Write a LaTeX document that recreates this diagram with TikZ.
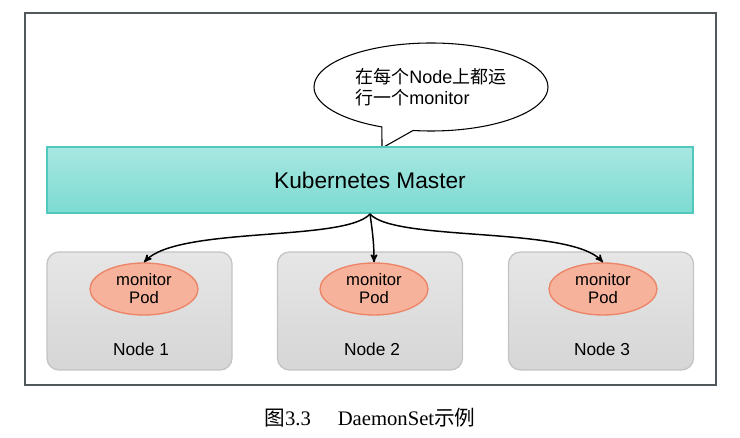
\documentclass[tikz,border=0pt]{standalone}
\usepackage{fontspec}
\setmainfont{Liberation Sans}
\newfontfamily\cjk{Noto Sans CJK SC}
\newfontfamily\capfont{Liberation Serif}
\usetikzlibrary{shapes}
\usetikzlibrary{shapes.callouts}
\usetikzlibrary{arrows}
\definecolor{masterTop}{RGB}{168,231,225}
\definecolor{masterBot}{RGB}{124,219,210}
\definecolor{masterLine}{RGB}{82,200,188}
\definecolor{boxTop}{RGB}{230,230,230}
\definecolor{boxBot}{RGB}{214,214,214}
\definecolor{boxLine}{RGB}{196,196,196}
\definecolor{podFill}{RGB}{247,178,155}
\definecolor{podLine}{RGB}{236,132,104}
\definecolor{frameLine}{RGB}{80,88,92}
\tikzset{
	master/.style = {rectangle, top color=masterTop, bottom color=masterBot,
		draw=masterLine, line width=1.5pt, minimum width=484.5pt,
		minimum height=49.5pt, font=\fontsize{17}{20}\selectfont},% le maitre
	hostbox/.style = {rectangle, rounded corners=9pt, top color=boxTop,
		bottom color=boxBot, draw=boxLine, line width=1pt,
		minimum width=138.75pt, minimum height=88.5pt},% un noeud du cluster
	pod/.style = {ellipse, fill=podFill, draw=podLine, line width=1pt,
		minimum width=81pt, minimum height=39pt, inner sep=0pt, align=center,
		font=\fontsize{12.5}{13.5}\selectfont},% le pod monitor
	hostlabel/.style = {font=\fontsize{13}{15}\selectfont},
	bubble/.style = {ellipse callout, draw=black, fill=white, line width=0.8pt,
		minimum width=175.5pt, minimum height=66pt, align=left,
		callout pointer arc=16, font=\fontsize{13.5}{15.5}\selectfont}% la bulle
}

\begin{document}
\begin{tikzpicture}[x=0.75pt, y=-0.75pt, ->, >=stealth', line width=1.1pt]
	\useasboundingbox (0,0) rectangle (740,438);
	% cadre
	\draw[-, draw=frameLine, line width=1.2pt] (25,13) rectangle (716,385);

	\node[bubble, callout absolute pointer={(382,148)}] (note) at (431,87)
		{{\cjk 在每个}Node{\cjk 上都运}\\{\cjk 行一个}monitor};
	\node[master] (master) at (370,180) {Kubernetes Master};

	\node[hostbox] (host1) at (139.5,311) {};
	\node[hostbox] (host2) at (370,311) {};
	\node[hostbox] (host3) at (601,311) {};

	\node[pod] (pod1) at (144,289) {monitor\\Pod};
	\node[pod] (pod2) at (374,289) {monitor\\Pod};
	\node[pod] (pod3) at (603,289) {monitor\\Pod};

	\node[hostlabel] (lab1) at (141,349) {Node 1};
	\node[hostlabel] (lab2) at (372,349) {Node 2};
	\node[hostlabel] (lab3) at (602,349) {Node 3};

	\draw (master.south) .. controls (345,242) and (178,226) .. (pod1.north);
	\draw (master.south) .. controls (373,235) and (374,245) .. (pod2.north);
	\draw (master.south) .. controls (395,242) and (570,226) .. (pod3.north);

	\node[font=\capfont\fontsize{15.5}{18}\selectfont] (caption) at (370,418)
		{{\cjk 图}3.3\hspace{1.3em}DaemonSet{\cjk 示例}};
\end{tikzpicture}
\end{document}
